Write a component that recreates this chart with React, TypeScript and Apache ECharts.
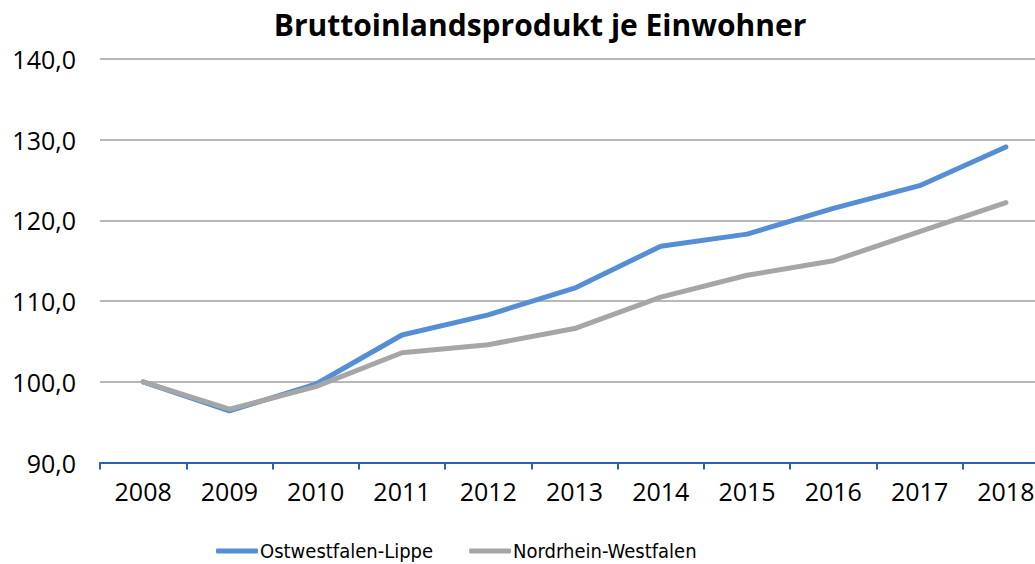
import React, { useEffect, useRef } from "react";
import * as echarts from "echarts";

const years = ["2008", "2009", "2010", "2011", "2012", "2013", "2014", "2015", "2016", "2017", "2018"];
const owl = [100.0, 96.4, 99.7, 105.8, 108.3, 111.6, 116.8, 118.3, 121.5, 124.3, 129.1];
const nrw = [100.0, 96.6, 99.4, 103.6, 104.6, 106.6, 110.5, 113.2, 115.0, 118.6, 122.2];
const seriesNames = ["Ostwestfalen-Lippe", "Nordrhein-Westfalen"];
const title = "Bruttoinlandsprodukt je Einwohner";

export default function App() {
  const ref = useRef<HTMLDivElement>(null);
  useEffect(() => {
    if (!ref.current) return;
    const chart = echarts.init(ref.current, undefined, { renderer: "svg" });
    const font = "'Open Sans', 'Noto Sans', sans-serif";
    chart.setOption({
      animation: false,
      textStyle: { fontFamily: font },
      title: {
        text: title,
        left: 535,
        top: 4,
        textAlign: "center",
        textStyle: { fontSize: 30, fontWeight: "bold", color: "#000", fontFamily: font },
      },
      legend: {
        top: 536,
        left: 211,
        itemWidth: 42,
        itemHeight: 5,
        itemGap: 36,
        icon: "roundRect",
        textStyle: {
          fontSize: 20,
          color: "#000",
          padding: [0, 0, 0, -3],
          fontFamily: "'Liberation Sans Narrow', 'DejaVu Sans Condensed', 'Open Sans', sans-serif",
        },
        data: seriesNames,
      },
      grid: { left: 100, top: 59, width: 949, height: 403.5 },
      xAxis: {
        type: "category",
        data: years,
        boundaryGap: true,
        axisLine: { lineStyle: { color: "#2a62b0", width: 2 } },
        axisTick: { show: true, length: 7, lineStyle: { color: "#2a62b0", width: 2 } },
        axisLabel: { fontSize: 25, color: "#000", margin: 16 },
      },
      yAxis: {
        type: "value",
        min: 90,
        max: 140,
        interval: 10,
        axisLine: { show: false },
        axisTick: { show: false },
        splitLine: { lineStyle: { color: "#a0a0a0", width: 1.5 } },
        axisLabel: {
          fontSize: 25,
          color: "#000",
          margin: 24,
          formatter: (v: number) => v.toFixed(1).replace(".", ","),
        },
      },
      series: [
        {
          name: seriesNames[0],
          type: "line",
          data: owl,
          showSymbol: false,
          symbol: "none",
          lineStyle: { color: "#558ed5", width: 5, cap: "round", join: "round" },
          itemStyle: { color: "#558ed5" },
          z: 2,
        },
        {
          name: seriesNames[1],
          type: "line",
          data: nrw,
          showSymbol: false,
          symbol: "none",
          lineStyle: { color: "#a6a6a6", width: 5, cap: "round", join: "round" },
          itemStyle: { color: "#a6a6a6" },
          z: 3,
        },
      ],
    });
    return () => chart.dispose();
  }, []);
  return (
    <div style={{ position: "absolute", left: 0, top: 0, width: 1035, height: 564, overflow: "hidden", background: "#fff" }}>
      <div ref={ref} style={{ width: 1060, height: 564 }} />
    </div>
  );
}
